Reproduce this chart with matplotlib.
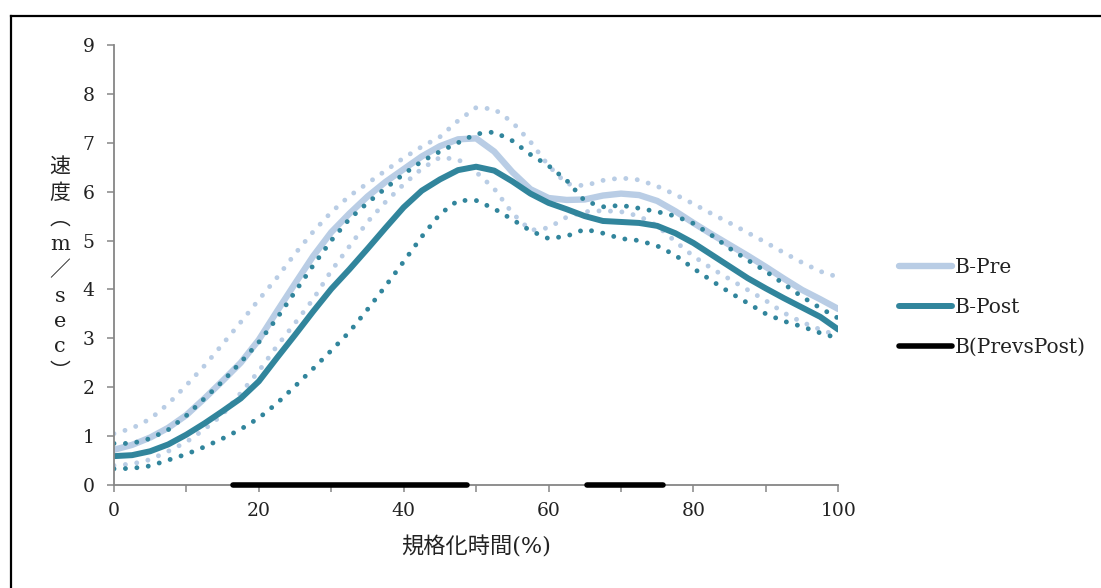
import numpy as np
import matplotlib
matplotlib.use('Agg')
import matplotlib.pyplot as plt
from matplotlib.lines import Line2D

# 規格化時間(%) every 2.5%
x_pct = [0, 2.5, 5, 7.5, 10, 12.5, 15, 17.5, 20, 22.5, 25, 27.5, 30, 32.5, 35, 37.5, 40,
         42.5, 45, 47.5, 50, 52.5, 55, 57.5, 60, 62.5, 65, 67.5, 70, 72.5, 75, 77.5, 80,
         82.5, 85, 87.5, 90, 92.5, 95, 97.5, 100]

pre_mean = [0.72, 0.82, 0.97, 1.17, 1.43, 1.77, 2.13, 2.50, 2.97, 3.55, 4.12, 4.68, 5.17,
            5.55, 5.90, 6.20, 6.46, 6.72, 6.93, 7.07, 7.09, 6.82, 6.40, 6.05, 5.87, 5.83,
            5.84, 5.92, 5.96, 5.93, 5.81, 5.60, 5.36, 5.13, 4.91, 4.69, 4.46, 4.22, 3.99,
            3.80, 3.60]
pre_upper = [1.05, 1.16, 1.35, 1.66, 2.04, 2.44, 2.88, 3.33, 3.79, 4.24, 4.73, 5.18, 5.58,
             5.91, 6.17, 6.43, 6.69, 6.92, 7.12, 7.45, 7.72, 7.69, 7.42, 7.02, 6.53, 6.16,
             6.12, 6.23, 6.28, 6.24, 6.11, 5.94, 5.75, 5.55, 5.36, 5.16, 4.96, 4.75, 4.55,
             4.37, 4.25]
pre_lower = [0.40, 0.43, 0.52, 0.69, 0.88, 1.14, 1.44, 1.88, 2.33, 2.84, 3.31, 3.80, 4.38,
             4.88, 5.38, 5.79, 6.15, 6.47, 6.70, 6.66, 6.40, 6.06, 5.56, 5.21, 5.26, 5.48,
             5.59, 5.61, 5.59, 5.50, 5.30, 4.98, 4.68, 4.43, 4.21, 3.99, 3.77, 3.52, 3.33,
             3.18, 3.05]

post_mean = [0.59, 0.61, 0.69, 0.83, 1.03, 1.26, 1.51, 1.77, 2.12, 2.60, 3.07, 3.55, 4.01,
             4.41, 4.83, 5.26, 5.68, 6.02, 6.25, 6.44, 6.51, 6.43, 6.21, 5.96, 5.77, 5.64,
             5.50, 5.40, 5.38, 5.36, 5.30, 5.15, 4.95, 4.71, 4.47, 4.23, 4.02, 3.82, 3.63,
             3.44, 3.18]
post_upper = [0.85, 0.85, 0.95, 1.13, 1.42, 1.77, 2.12, 2.51, 2.92, 3.41, 3.95, 4.49, 5.00,
              5.44, 5.77, 6.07, 6.36, 6.62, 6.82, 7.00, 7.18, 7.22, 7.04, 6.76, 6.53, 6.23,
              5.81, 5.69, 5.72, 5.66, 5.59, 5.50, 5.35, 5.11, 4.84, 4.60, 4.37, 4.11, 3.85,
              3.62, 3.41]
post_lower = [0.33, 0.34, 0.39, 0.51, 0.63, 0.78, 0.95, 1.14, 1.37, 1.67, 2.02, 2.38, 2.75,
              3.13, 3.59, 4.07, 4.57, 5.08, 5.54, 5.82, 5.82, 5.65, 5.43, 5.20, 5.04, 5.09,
              5.23, 5.15, 5.04, 5.00, 4.89, 4.70, 4.43, 4.18, 3.94, 3.72, 3.50, 3.35, 3.24,
              3.11, 3.00]

# 有意差区間 (Pre vs Post)
sig_ranges = [(16.4, 48.7), (65.3, 75.8)]

c_pre = '#B9CDE5'
c_post = '#31859C'
num_font = 'DejaVu Serif'
jp_fonts = ['DejaVu Serif', 'Noto Sans CJK JP']
txt_color = '#222222'

fig = plt.figure(figsize=(11.01, 5.88), dpi=100)
ax = fig.add_axes([0.1035, 0.1752, 0.6579, 0.7483])

dot_kw = dict(linewidth=3.5, dashes=(0.01, 2.35), dash_capstyle='round')
ax.plot(x_pct, pre_upper, color=c_pre, **dot_kw)
ax.plot(x_pct, pre_lower, color=c_pre, **dot_kw)
ax.plot(x_pct, pre_mean, color=c_pre, linewidth=4.6, solid_capstyle='round',
        solid_joinstyle='round', label='B-Pre')
ax.plot(x_pct, post_upper, color=c_post, **dot_kw)
ax.plot(x_pct, post_lower, color=c_post, **dot_kw)
ax.plot(x_pct, post_mean, color=c_post, linewidth=4.3, solid_capstyle='round',
        solid_joinstyle='round', label='B-Post')
for i, (s, e) in enumerate(sig_ranges):
    ax.plot([s, e], [0, 0], color='black', linewidth=4.0, solid_capstyle='round',
            clip_on=False, zorder=5, label='B(PrevsPost)' if i == 0 else '_nolegend_')

ax.set_xlim(0, 100)
ax.set_ylim(0, 9)
ax.set_xticks(np.arange(0, 101, 20))
ax.set_xticks(np.arange(10, 100, 20), minor=True)
ax.set_yticks(np.arange(0, 10, 1))
for sp in ['top', 'right']:
    ax.spines[sp].set_visible(False)
for sp in ['left', 'bottom']:
    ax.spines[sp].set_color('#868686')
    ax.spines[sp].set_linewidth(1.3)
ax.tick_params(axis='both', which='both', direction='out', length=5, width=1.1,
               color='#868686', labelsize=13.5, labelcolor=txt_color)
ax.tick_params(axis='y', pad=9)
ax.tick_params(axis='x', pad=7)
for lab in ax.get_xticklabels() + ax.get_yticklabels():
    lab.set_family(num_font)

ax.set_xlabel('規格化時間(%)', family=jp_fonts, fontsize=16, color=txt_color, labelpad=12)

# 縦書きの軸ラベル
fig.text(60 / 1101, 1 - 270 / 588, '\n'.join(['速', '度', '︵', 'm', '／', 's', 'e', 'c', '︶']),
         family=jp_fonts, fontsize=15, color=txt_color, ha='center', va='center',
         linespacing=1.43)

leg = ax.legend(loc='upper left', bbox_to_anchor=(1.084, 0.516), frameon=False,
                borderaxespad=0, borderpad=0, handlelength=2.64, handletextpad=0.15,
                labelspacing=1.04, prop={'family': num_font, 'size': 14.5})
for t in leg.get_texts():
    t.set_color(txt_color)

# 外枠
fig.add_artist(Line2D([11 / 1101, 1.0], [1 - 16 / 588, 1 - 16 / 588], color='black',
                      linewidth=1.6, transform=fig.transFigure))
fig.add_artist(Line2D([11 / 1101, 11 / 1101], [1 - 16 / 588, 0.0], color='black',
                      linewidth=1.6, transform=fig.transFigure))

fig.savefig('out.png', dpi=100)
